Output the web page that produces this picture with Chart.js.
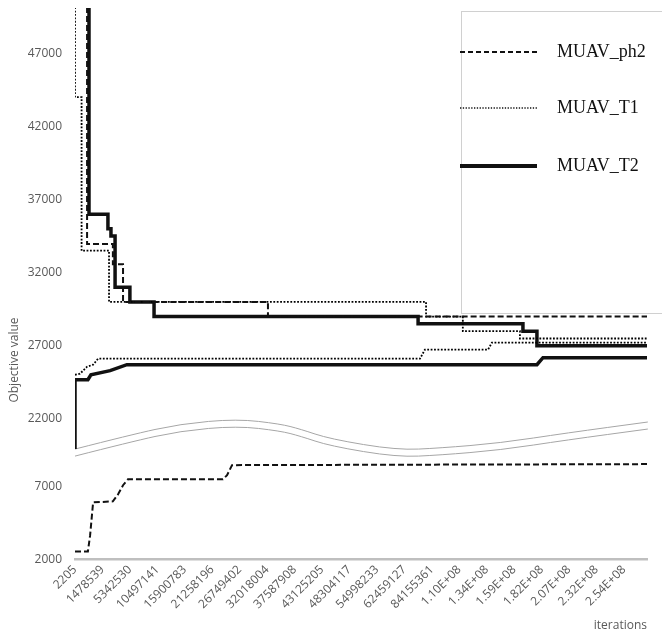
<!DOCTYPE html>
<html lang="en">
<head>
<meta charset="UTF-8">
<title>Objective value vs iterations</title>
<script src="https://cdn.jsdelivr.net/npm/chart.js@4.4.0/dist/chart.umd.min.js"></script>
<style>
    html, body { margin: 0; padding: 0; background: #fff; }
    #wrap { width: 662px; height: 635px; }
</style>
</head>
<body>
<div id="wrap"><canvas id="chart" width="662" height="635"></canvas></div>
<script>
// x positions are in tick units: 0 = "2205" ... 20 = "2.54E+08"
const iterLabels = ['2205', '1478539', '5342530', '10497141', '15900783', '21258196',
    '26749402', '32018004', '37587908', '43125205', '48304117', '54998233', '62459127',
    '84155361', '1.10E+08', '1.34E+08', '1.59E+08', '1.82E+08', '2.07E+08', '2.32E+08', '2.54E+08'];
const upperTicks = [22000, 27000, 32000, 37000, 42000, 47000];
const lowerTicks = [2000, 7000];

// upper bounds (decreasing)
const ph2UpX = [0.44, 0.44, 1.38, 1.38, 1.75, 1.75, 7.03, 7.03, 20.84];
const ph2UpY = [52000, 33950, 33950, 32580, 32580, 30000, 30000, 29000, 29000];
const t1UpX = [0, 0, 0.24, 0.24, 1.24, 1.24, 12.79, 12.79, 14.13, 14.13, 16.21, 16.21, 20.84];
const t1UpY = [52000, 44000, 44000, 33500, 33500, 30000, 30000, 29000, 29000, 28000, 28000, 27500, 27500];
const t2UpX = [0.51, 0.51, 1.2, 1.2, 1.31, 1.31, 1.46, 1.46, 2.0, 2.0, 2.88, 2.88, 12.5, 12.5, 16.32, 16.32, 16.83, 16.83, 20.84];
const t2UpY = [52000, 36000, 36000, 35000, 35000, 34500, 34500, 31000, 31000, 30000, 30000, 29000, 29000, 28500, 28500, 28000, 28000, 27000, 27000];

// lower bounds (increasing)
const ph2LowX = [0, 0.47, 0.55, 0.66, 1.38, 1.57, 1.75, 1.93, 5.39, 5.54, 5.72, 20.84];
const ph2LowY = [2550, 2550, 3650, 5900, 5970, 6450, 7070, 7480, 7480, 7750, 8440, 8510];
const t1LowX = [0, 0.18, 0.44, 0.66, 0.84, 12.57, 12.75, 15.05, 15.19, 20.84];
const t1LowY = [25020, 25090, 25570, 25710, 26120, 26120, 26740, 26740, 27220, 27220];
const t2LowX = [0, 0, 0.47, 0.58, 1.28, 1.89, 16.83, 17.05, 20.84];
const t2LowY = [19940, 24680, 24680, 25020, 25300, 25710, 25710, 26190, 26190];

// axis break curve (upper edge), in tick units / upper-axis values
const waveX = [0, 2.0, 3.83, 5.9, 7.47, 8.2, 9.29, 11.73, 13.3, 15.48, 17.92, 20.87];
const waveY = [19940, 20900, 21660, 22000, 21660, 21310, 20630, 19870, 20010, 20350, 21040, 21790];

const pts = (xs, ys) => xs.map((x, i) => ({x: x, y: ys[i]}));

const legendItems = [
    {text: 'MUAV_ph2', width: 2, dash: [5, 3]},
    {text: 'MUAV_T1', width: 1.3, dash: [1.3, 1.5]},
    {text: 'MUAV_T2', width: 4, dash: []}
];

const boxPlugin = {
    id: 'extras',
    beforeDatasetsDraw(chart) {
        const ctx = chart.ctx;
        const xs = chart.scales.x, ys = chart.scales.y;
        // two curves of the axis break
        [0, 480].forEach(off => {
            const p = waveX.map((x, i) => [xs.getPixelForValue(x), ys.getPixelForValue(waveY[i] - off)]);
            ctx.save();
            ctx.strokeStyle = '#a6a6a6';
            ctx.lineWidth = 1;
            ctx.beginPath();
            ctx.moveTo(p[0][0], p[0][1]);
            for (let i = 1; i < p.length - 1; i++) {
                const mx = (p[i][0] + p[i + 1][0]) / 2, my = (p[i][1] + p[i + 1][1]) / 2;
                ctx.quadraticCurveTo(p[i][0], p[i][1], mx, my);
            }
            ctx.lineTo(p[p.length - 1][0], p[p.length - 1][1]);
            ctx.stroke();
            ctx.restore();
        });
    },
    afterDraw(chart) {
        const ctx = chart.ctx;
        ctx.save();
        // y title
        ctx.fillStyle = '#595959';
        ctx.font = '12px "Open Sans"';
        ctx.translate(15, 360);
        ctx.rotate(-Math.PI / 2);
        ctx.textAlign = 'center';
        ctx.textBaseline = 'middle';
        ctx.fillText('Objective value', 0, 0);
        ctx.restore();

        // legend box
        ctx.save();
        ctx.strokeStyle = '#d0d0d0';
        ctx.lineWidth = 1;
        ctx.strokeRect(461.5, 11.5, 240, 302);
        legendItems.forEach((it, i) => {
            const y = [52, 108, 166][i];
            ctx.strokeStyle = '#111';
            ctx.lineWidth = it.width;
            ctx.setLineDash(it.dash);
            ctx.beginPath();
            ctx.moveTo(460, y);
            ctx.lineTo(537, y);
            ctx.stroke();
            ctx.setLineDash([]);
            ctx.fillStyle = '#111';
            ctx.font = '18px "Liberation Serif"';
            ctx.textBaseline = 'middle';
            ctx.fillText(it.text, 557, y);
        });
        ctx.restore();
    }
};

const line = (label, data, axis, width, dash, color) => ({
    label: label,
    data: data,
    yAxisID: axis,
    borderColor: color || '#111',
    borderWidth: width,
    borderDash: dash,
    pointRadius: 0,
    tension: 0,
    fill: false
});

// fixed y-axis column width, no extra edge padding
const fitY = s => { s.width = 47; s.paddingTop = 0; s.paddingBottom = 0; };

new Chart(document.getElementById('chart'), {
    type: 'line',
    data: {
        datasets: [
            line('MUAV_ph2', pts(ph2UpX, ph2UpY), 'y', 2, [6, 3]),
            line('MUAV_ph2 lower', pts(ph2LowX, ph2LowY), 'yLow', 2, [6, 3]),
            line('MUAV_T1', pts(t1UpX, t1UpY), 'y', 1.8, [1.8, 1.6], '#000'),
            line('MUAV_T1 lower', pts(t1LowX, t1LowY), 'y', 1.8, [1.8, 1.6], '#000'),
            line('MUAV_T2', pts(t2UpX, t2UpY), 'y', 3.5, []),
            line('MUAV_T2 lower', pts(t2LowX, t2LowY), 'y', 3.5, [])
        ]
    },
    options: {
        responsive: false,
        animation: false,
        layout: {padding: {left: 28, right: 15, top: 8, bottom: 2}},
        plugins: {legend: {display: false}, tooltip: {enabled: false}},
        scales: {
            x: {
                type: 'linear',
                min: 0,
                max: 20.84,
                afterBuildTicks: s => { s.ticks = iterLabels.map((_, i) => ({value: i})); },
                ticks: {
                    autoSkip: false,
                    maxRotation: 45,
                    minRotation: 45,
                    padding: 3,
                    color: '#595959',
                    font: {family: 'Open Sans', size: 12},
                    callback: (v) => iterLabels[Math.round(v)]
                },
                grid: {display: false, drawTicks: false},
                border: {display: true, color: '#bfbfbf', width: 2.5},
                title: {display: true, text: 'iterations', align: 'end', color: '#595959',
                    font: {family: 'Open Sans', size: 12}, padding: {top: 4, bottom: 0}}
            },
            yLow: {
                type: 'linear',
                position: 'left',
                stack: 'obj',
                stackWeight: 105,
                min: 2000,
                max: 9192,
                afterBuildTicks: s => { s.ticks = lowerTicks.map(v => ({value: v})); },
                afterFit: fitY,
                ticks: {color: '#595959', padding: 13, font: {family: 'Open Sans', size: 12},
                    callback: v => String(v)},
                grid: {display: false, drawTicks: false},
                border: {display: false}
            },
            y: {
                type: 'linear',
                position: 'left',
                stack: 'obj',
                stackWeight: 444,
                min: 19596,
                max: 50091,
                afterBuildTicks: s => { s.ticks = upperTicks.map(v => ({value: v})); },
                afterFit: fitY,
                ticks: {color: '#595959', padding: 13, font: {family: 'Open Sans', size: 12},
                    callback: v => String(v)},
                grid: {display: false, drawTicks: false},
                border: {display: false}
            }
        }
    },
    plugins: [boxPlugin]
});
</script>
</body>
</html>
